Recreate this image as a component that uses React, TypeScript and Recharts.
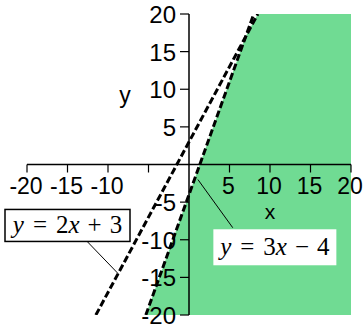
import React from "react";
import {
  ComposedChart,
  Area,
  Line,
  XAxis,
  YAxis,
  ReferenceLine,
  ReferenceDot,
} from "recharts";

// tick values and labels (Maple-style plot, no label at the origin)
const X_TICKS = [-20, -15, -10, -5, 5, 10, 15, 20];
const X_LABELS = ["-20", "-15", "-10", "", "5", "10", "15", "20"];
const Y_TICKS = [-20, -15, -10, -5, 5, 10, 15, 20];
const Y_LABELS = ["-20", "-15", "-10", "-5", "5", "10", "15", "20"];

// end points of the two boundary lines
const LINE_2X_PLUS_3 = [
  { x: -11.5, y: -20 },
  { x: 8.5, y: 20 },
];
const LINE_3X_MINUS_4 = [
  { x: -5.33, y: -20 },
  { x: 8, y: 20 },
];

// upper edge of the shaded (green) region
const REGION = [
  { x: -5.33, top: -20 },
  { x: 7, top: 17 },
  { x: 8.5, top: 20 },
  { x: 20, top: 20 },
];

// callout boxes + leader lines
const CALLOUTS = [
  {
    x: -15,
    y: -8.1,
    a: "2",
    op: "+",
    b: "3",
    border: true,
    leader: [
      { x: -12.6, y: -10.2 },
      { x: -8.75, y: -14.5 },
    ],
  },
  {
    x: 10.6,
    y: -11,
    a: "3",
    op: "\u2212",
    b: "4",
    border: false,
    leader: [
      { x: 1.1, y: -2 },
      { x: 5.4, y: -8.4 },
    ],
  },
];

const W = 363;
const H = 328;
// the 1px axes sit at the edges; margins leave a 324x301 plot area
const MARGIN = { top: 14, right: 12, bottom: 12, left: 26 };
const PLOT_LEFT = 27;
const PLOT_TOP = 14;
const ORIGIN_X = PLOT_LEFT + (W - PLOT_LEFT - 12) / 2;
const ORIGIN_Y = PLOT_TOP + (H - PLOT_TOP - 13) / 2;

const GREEN = "#70db93";
const SANS = "'Liberation Sans', Arial, sans-serif";
const SERIF = "'Liberation Serif', 'Times New Roman', serif";

// ticks drawn on the axis through the origin instead of the chart edge
const renderXTick = (props: any) => {
  const { x, index } = props;
  return (
    <g>
      <line x1={x} x2={x} y1={ORIGIN_Y} y2={ORIGIN_Y + 8} stroke="#000" strokeWidth={1.2} />
      <text x={x - 1} y={ORIGIN_Y + 29} textAnchor="middle" fontFamily={SANS} fontSize={23} fill="#000">
        {X_LABELS[index]}
      </text>
    </g>
  );
};

const renderYTick = (props: any) => {
  const { y, index } = props;
  return (
    <g>
      <line x1={ORIGIN_X - 9} x2={ORIGIN_X} y1={y} y2={y} stroke="#000" strokeWidth={1.2} />
      <text x={ORIGIN_X - 13} y={y + 9} textAnchor="end" fontFamily={SANS} fontSize={24} fill="#000">
        {Y_LABELS[index]}
      </text>
    </g>
  );
};

const CalloutBox = (c: any) => (props: any) => {
  const { cx, cy } = props;
  const bw = c.border ? 125 : 123;
  const bh = c.border ? 32 : 36;
  return (
    <g>
      <rect
        x={cx - bw / 2}
        y={cy - bh / 2}
        width={bw}
        height={bh}
        fill="#fff"
        stroke={c.border ? "#000" : "none"}
        strokeWidth={1.5}
      />
      <text x={cx} y={cy + 8} textAnchor="middle" fontFamily={SERIF} fontSize={25} fill="#000">
        <tspan fontStyle="italic">y</tspan>
        <tspan dx={9}>=</tspan>
        <tspan dx={9}>{c.a}</tspan>
        <tspan fontStyle="italic">x</tspan>
        <tspan dx={8}>{c.op}</tspan>
        <tspan dx={8}>{c.b}</tspan>
      </text>
    </g>
  );
};

const AxisName = (label: string, size: number) => (props: any) => (
  <text x={props.cx} y={props.cy + 8} textAnchor="middle" fontFamily={SANS} fontSize={size} fill="#000">
    {label}
  </text>
);

export default function App() {
  return (
    <div style={{ position: "absolute", left: 0, top: 0, background: "#fff" }}>
      <ComposedChart width={W} height={H} data={REGION} margin={MARGIN}>
        <Area
          type="linear"
          dataKey="top"
          baseValue={-20}
          fill={GREEN}
          fillOpacity={1}
          stroke="none"
          isAnimationActive={false}
        />
        <XAxis
          type="number"
          dataKey="x"
          domain={[-20, 20]}
          ticks={X_TICKS}
          interval={0}
          height={1}
          axisLine={false}
          tickLine={false}
          tick={renderXTick}
          allowDataOverflow
        />
        <YAxis
          type="number"
          domain={[-20, 20]}
          ticks={Y_TICKS}
          interval={0}
          width={1}
          axisLine={false}
          tickLine={false}
          tick={renderYTick}
          allowDataOverflow
        />
        <ReferenceLine y={0} stroke="#000" strokeWidth={1.5} />
        <ReferenceLine x={0} stroke="#000" strokeWidth={1.5} />
        <Line
          data={LINE_2X_PLUS_3}
          dataKey="y"
          type="linear"
          stroke="#000"
          strokeWidth={3}
          strokeDasharray="7 3"
          dot={false}
          isAnimationActive={false}
        />
        <Line
          data={LINE_3X_MINUS_4}
          dataKey="y"
          type="linear"
          stroke="#000"
          strokeWidth={3}
          strokeDasharray="7 3"
          dot={false}
          isAnimationActive={false}
        />
        {CALLOUTS.map((c, i) => (
          <ReferenceLine key={`lead-${i}`} segment={c.leader} stroke="#000" strokeWidth={1} />
        ))}
        {CALLOUTS.map((c, i) => (
          <ReferenceDot key={`box-${i}`} x={c.x} y={c.y} r={1} shape={CalloutBox(c)} />
        ))}
        <ReferenceDot x={-7.9} y={9.3} r={1} shape={AxisName("y", 23)} />
        <ReferenceDot x={10} y={-6.2} r={1} shape={AxisName("x", 21)} />
      </ComposedChart>
    </div>
  );
}
